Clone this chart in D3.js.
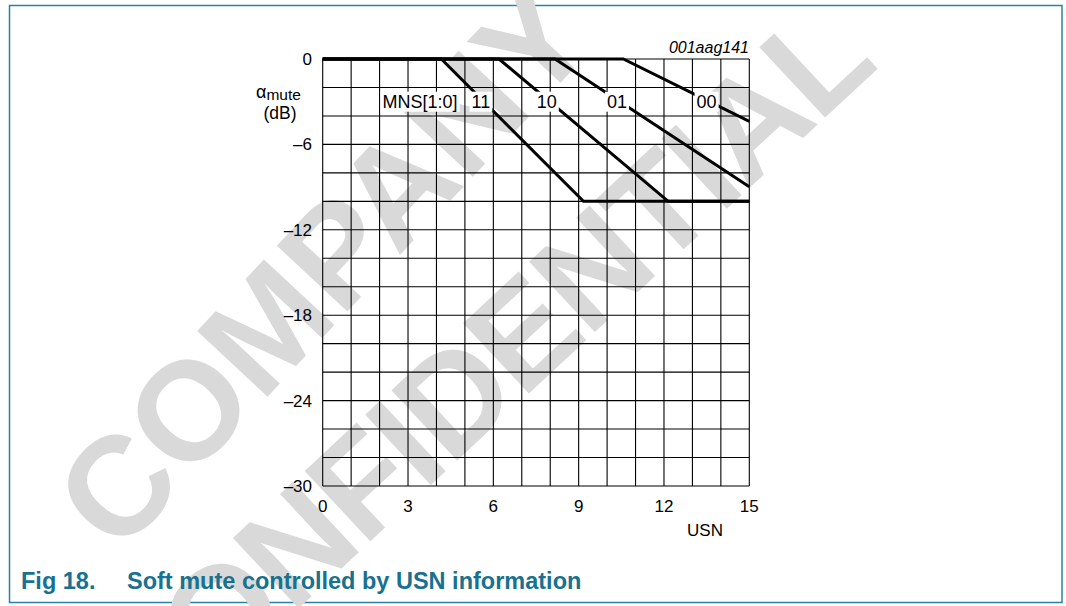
<!DOCTYPE html>
<html><head><meta charset="utf-8">
<script src="https://cdn.jsdelivr.net/npm/d3@7"></script>
<style>
body{margin:0;background:#fff}
svg{display:block}
text{font-family:"Liberation Sans",Arial,Helvetica,sans-serif}
</style>
</head><body>
<svg id="chart" width="1066" height="606"></svg>
<script>
// ---- data ----
const usnTicks = [0, 3, 6, 9, 12, 15];
const dbTicks = [0, -6, -12, -18, -24, -30];
const mnsCodes = ["11", "10", "01", "00"];
const series11 = [[0, 0], [4.17, 0], [9.17, -10], [15, -10]];
const series10 = [[0, 0], [6.2, 0], [12.15, -10], [15, -10]];
const series01 = [[0, 0], [8.17, 0], [15, -8.97]];
const series00 = [[0, 0], [10.57, 0], [15, -4.38]];
const labelLevel = -3; // dB level where MNS labels sit on the curves
const figId = "001aag141";
const titleNum = "Fig 18.";
const titleText = "Soft mute controlled by USN information";
const watermark = ["COMPANY", "CONFIDENTIAL"];

// ---- drawing ----
const svg = d3.select("#chart");
const teal = "#17718f";

// frame
svg.append("rect").attr("x", 9.5).attr("y", 5.5).attr("width", 1052.5).attr("height", 597)
  .attr("fill", "#fff").attr("stroke", "#2a82a2").attr("stroke-width", 1.5);

// watermark (light grey, behind the chart)
const wmLayout = [
  {tx: 116, ty: 486, rot: -47, dx: -50.5, ls: 0},
  {tx: 453, ty: 396, rot: -43, dx: -471, ls: -3}
];
watermark.forEach((w, i) => {
  const L = wmLayout[i];
  svg.append("g").attr("transform", `translate(${L.tx},${L.ty}) rotate(${L.rot})`)
    .append("text").attr("x", L.dx).attr("y", 50)
    .attr("font-size", 140).attr("font-weight", "bold").attr("letter-spacing", L.ls)
    .attr("fill", "#d9d9d9").text(w);
});

const x = d3.scaleLinear().domain([0, 15]).range([322.7, 749.3]);
const y = d3.scaleLinear().domain([0, -30]).range([59, 486]);

// grid
const grid = svg.append("g").attr("stroke", "#000").attr("stroke-width", 1.1);
grid.selectAll("line.v").data(d3.range(0, 16)).join("line").attr("class", "v")
  .attr("x1", d => x(d)).attr("x2", d => x(d)).attr("y1", y(0)).attr("y2", y(-30));
grid.selectAll("line.h").data(d3.range(0, -31, -2)).join("line").attr("class", "h")
  .attr("y1", d => y(d)).attr("y2", d => y(d)).attr("x1", x(0)).attr("x2", x(15));

// curves
const allSeries = [series11, series10, series01, series00];
const line = d3.line().x(d => x(d[0])).y(d => y(d[1]));
svg.append("g").selectAll("path").data(allSeries).join("path")
  .attr("d", line).attr("fill", "none").attr("stroke", "#000")
  .attr("stroke-width", 3).attr("stroke-linejoin", "miter");

// x position on a series at a given dB level
function xAt(s, level) {
  for (let i = 1; i < s.length; i++) {
    const a = s[i - 1], b = s[i];
    if ((a[1] - level) * (b[1] - level) <= 0 && a[1] !== b[1]) {
      return a[0] + (level - a[1]) / (b[1] - a[1]) * (b[0] - a[0]);
    }
  }
  return null;
}

// labels with white background boxes
function boxedLabel(px, py, txt, anchor) {
  const g = svg.append("g");
  const t = g.append("text").attr("x", px).attr("y", py + 6.5).attr("text-anchor", anchor)
    .attr("font-size", 18).attr("fill", "#000").text(txt);
  const bb = t.node().getBBox();
  g.insert("rect", "text").attr("x", bb.x - 2).attr("y", py - 10).attr("width", bb.width + 4)
    .attr("height", 20).attr("fill", "#fff");
  return bb;
}
const lblY = y(labelLevel);
let firstBox = null;
allSeries.forEach((s, i) => {
  const bb = boxedLabel(x(xAt(s, labelLevel)) - 3, lblY, mnsCodes[i], "middle");
  if (i === 0) firstBox = bb;
});
boxedLabel(firstBox.x - 14, lblY, "MNS[1:0]", "end");

// y tick labels
svg.append("g").selectAll("text").data(dbTicks).join("text")
  .attr("x", 312).attr("y", d => y(d) + 6).attr("text-anchor", "end")
  .attr("font-size", 17).text(d => d === 0 ? "0" : "\u2013" + Math.abs(d));

// x tick labels
svg.append("g").selectAll("text").data(usnTicks).join("text")
  .attr("x", d => x(d)).attr("y", 512).attr("text-anchor", "middle")
  .attr("font-size", 17).text(d => d);

// axis titles
svg.append("text").attr("x", 705).attr("y", 536).attr("text-anchor", "middle")
  .attr("font-size", 17).text("USN");
const at = svg.append("text").attr("x", 256).attr("y", 98).attr("font-size", 18);
at.append("tspan").text("\u03b1");
at.append("tspan").attr("font-size", 15.5).attr("dy", 2).text("mute");
svg.append("text").attr("x", 280).attr("y", 119).attr("text-anchor", "middle")
  .attr("font-size", 17.5).text("(dB)");

// figure id
svg.append("text").attr("x", 749).attr("y", 53).attr("text-anchor", "end")
  .attr("font-size", 16).attr("font-style", "italic").text(figId);

// caption
svg.append("text").attr("x", 21).attr("y", 589).attr("font-size", 23.5)
  .attr("font-weight", "bold").attr("fill", teal).text(titleNum);
svg.append("text").attr("x", 127).attr("y", 589).attr("font-size", 23.5)
  .attr("font-weight", "bold").attr("fill", teal).text(titleText);
</script>
</body></html>
